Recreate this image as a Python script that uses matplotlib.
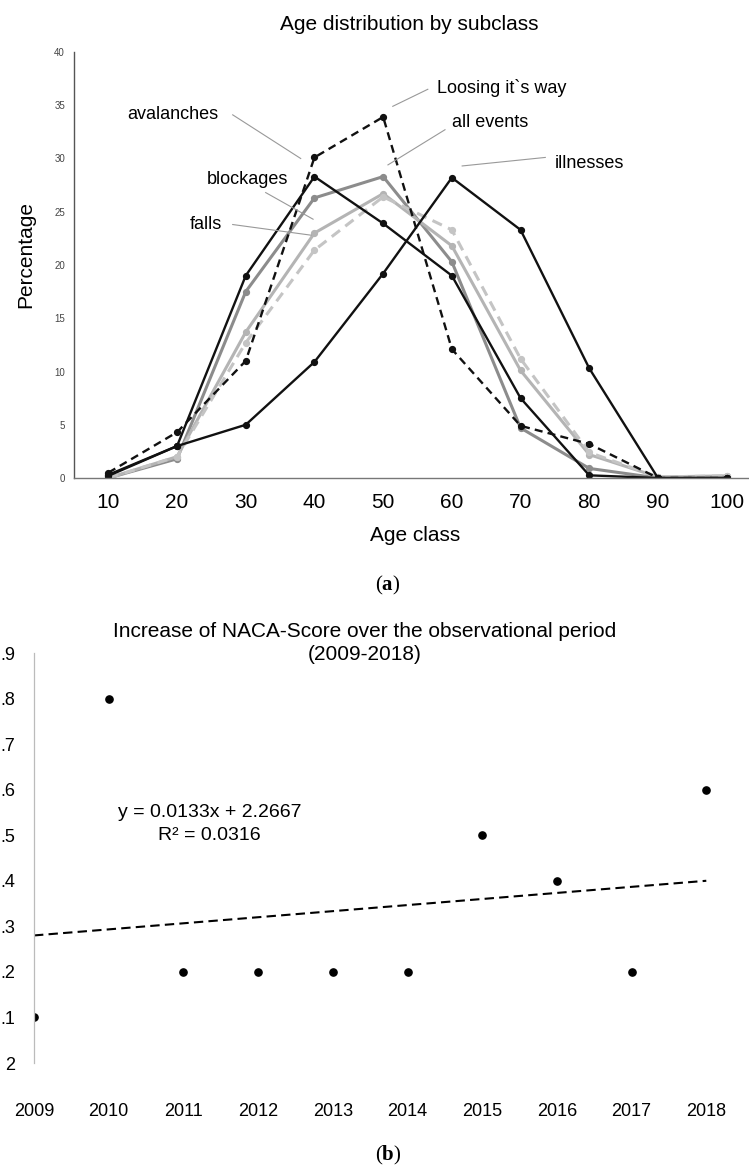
import numpy as np
import matplotlib
matplotlib.use("Agg")
import matplotlib.pyplot as plt

plt.rcParams["font.family"] = ["Liberation Sans", "DejaVu Sans"]
plt.rcParams["mathtext.fontset"] = "custom"
plt.rcParams["mathtext.rm"] = "Liberation Serif"
plt.rcParams["mathtext.bf"] = "Liberation Serif:bold"

# ----------------------------
# Data (a): age distribution
# ----------------------------
age_classes = ["10", "20", "30", "40", "50", "60", "70", "80", "90", "100"]

avalanches = [0.3, 3.0, 19.0, 28.3, 23.9, 19.0, 7.5, 0.25, 0.0, 0.0]
loosing_way = [0.5, 4.3, 11.0, 30.1, 33.9, 12.1, 4.9, 3.2, 0.0, 0.0]
illnesses = [0.2, 3.0, 5.0, 10.9, 19.2, 28.2, 23.3, 10.3, 0.0, 0.0]
blockages = [0.0, 1.8, 17.5, 26.3, 28.3, 20.3, 4.7, 0.9, 0.0, 0.0]
falls = [0.0, 2.0, 13.7, 23.0, 26.7, 21.8, 10.1, 2.2, 0.1, 0.2]
all_events = [0.0, 2.0, 12.7, 21.4, 26.4, 23.3, 11.2, 2.4, 0.1, 0.2]

# ----------------------------
# Data (b): NACA score per year
# ----------------------------
years = [2009, 2010, 2011, 2012, 2013, 2014, 2015, 2016, 2017, 2018]
naca = [2.1, 2.8, 2.2, 2.2, 2.2, 2.2, 2.5, 2.4, 2.2, 2.6]
# the reference crops the leading "2" of the y labels at the left edge
naca_ticks = [2.0, 2.1, 2.2, 2.3, 2.4, 2.5, 2.6, 2.7, 2.8, 2.9]
naca_tick_labels = ["2", ".1", ".2", ".3", ".4", ".5", ".6", ".7", ".8", ".9"]

W, H = 749, 1168
fig = plt.figure(figsize=(W / 100, H / 100), dpi=100)


def box(left, top, right, bottom):
    return [left / W, 1 - bottom / H, (right - left) / W, (bottom - top) / H]


# ----------------------------
# Panel (a)
# ----------------------------
ax = fig.add_axes(box(74, 52, 761, 478))
x = np.arange(len(age_classes))

styles = [
    (blockages, "#8c8c8c", "-", 2.2),
    (falls, "#b4b4b4", "-", 2.2),
    (all_events, "#c4c4c4", "--", 2.2),
    (illnesses, "#111111", "-", 1.7),
    (avalanches, "#111111", "-", 1.7),
    (loosing_way, "#111111", "--", 1.7),
]
for vals, col, ls, lw in styles:
    line, = ax.plot(x, vals, color=col, ls=ls, lw=lw, marker="o", ms=4.2,
                    mfc=col, mec=col)
    if ls == "--":
        line.set_dashes((3.4, 2.2))

ax.set_xlim(-0.5, len(age_classes) - 0.5)
ax.set_ylim(0, 40)
ax.set_yticks(range(0, 41, 5))
ax.set_xticks(x)
ax.set_xticklabels(age_classes, fontsize=15)
ax.tick_params(axis="x", length=0, pad=11)
ax.tick_params(axis="y", length=0, pad=6.5, labelsize=7, labelcolor="#444444")
for s in ["top", "right"]:
    ax.spines[s].set_visible(False)
ax.spines["left"].set_color("#555555")
ax.spines["bottom"].set_color("#777777")
ax.spines["left"].set_linewidth(1.0)
ax.spines["bottom"].set_linewidth(1.0)

fig.text(409 / W, 1 - 25 / H, "Age distribution by subclass", fontsize=15,
         ha="center", va="center")
fig.text(26 / W, 1 - 254 / H, "Percentage", fontsize=15, rotation=90,
         ha="center", va="center")
fig.text(415 / W, 1 - 535 / H, "Age class", fontsize=15,
         ha="center", va="center")

# labels with leader lines (text pos, line start, line end)
labels = [
    ("avalanches", (0.94, 34.1), (1.81, 34.1), (2.80, 30.0)),
    ("Loosing it`s way", (5.72, 36.6), (4.65, 36.5), (4.14, 34.9)),
    ("all events", (5.56, 33.4), (4.90, 32.7), (4.07, 29.4)),
    ("illnesses", (7.0, 29.5), (6.36, 30.1), (5.15, 29.3)),
    ("blockages", (2.02, 28.0), (2.29, 26.8), (2.98, 24.3)),
    ("falls", (1.42, 23.8), (1.81, 23.8), (2.95, 22.8)),
]
for name, tp, p0, p1 in labels:
    ax.text(tp[0], tp[1], name, fontsize=13, ha="center", va="center")
    ax.plot([p0[0], p1[0]], [p0[1], p1[1]], color="#999999", lw=0.8)

fig.text(388 / W, 1 - 585 / H, r"($\mathbf{a}$)", fontsize=15,
         family="Liberation Serif", ha="center", va="center")

# ----------------------------
# Panel (b)
# ----------------------------
bx = fig.add_axes(box(34, 653, 781, 1063))
bx.plot(years, naca, "o", color="black", ms=5.2, ls="none")

slope, intercept = np.polyfit(np.arange(1, len(years) + 1), naca, 1)
fit_x = np.array([years[0], years[-1]])
fit_y = slope * (fit_x - years[0] + 1) + intercept
trend, = bx.plot(fit_x, fit_y, color="black", lw=1.5, ls="--")
trend.set_dashes((4.5, 2.5))

bx.set_xlim(2009, 2019)
bx.set_ylim(2.0, 2.9)
bx.set_yticks(naca_ticks)
bx.set_yticklabels(naca_tick_labels)
bx.set_xticks(years)
bx.set_xticklabels([str(y) for y in years], fontsize=13)
bx.tick_params(axis="x", length=0, pad=29)
bx.tick_params(axis="y", length=0, pad=13.5, labelsize=13)
for s in ["top", "right", "bottom"]:
    bx.spines[s].set_visible(False)
bx.spines["left"].set_color("#bbbbbb")
bx.spines["left"].set_linewidth(0.9)

fig.text(365 / W, 1 - 643 / H,
         "Increase of NACA-Score over the observational period\n(2009-2018)",
         fontsize=15, ha="center", va="center", linespacing=1.3)
bx.text(0.235, 0.61,
        f"y = {slope:.4f}x + {intercept:.4f}",
        transform=bx.transAxes, fontsize=14, ha="center", va="center")
ss_res = np.sum((np.array(naca) - (slope * np.arange(1, 11) + intercept)) ** 2)
ss_tot = np.sum((np.array(naca) - np.mean(naca)) ** 2)
bx.text(0.235, 0.554, f"R² = {1 - ss_res / ss_tot:.4f}",
        transform=bx.transAxes, fontsize=14, ha="center", va="center")

fig.text(388 / W, 1 - 1155 / H, r"($\mathbf{b}$)", fontsize=15,
         family="Liberation Serif", ha="center", va="center")

fig.savefig("out.png", dpi=100)
